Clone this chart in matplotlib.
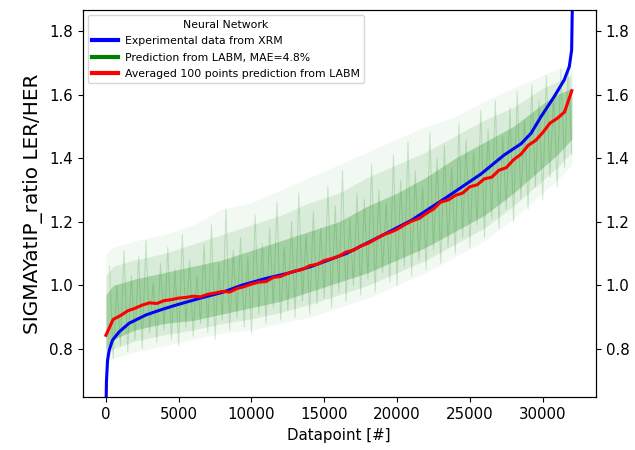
import numpy as np
import matplotlib
matplotlib.use("Agg")
from matplotlib import pyplot as plt

exp_x = [0, 40, 115, 230, 460, 915, 1600, 2750, 3900, 4810, 6500, 8000, 9300,
         11000, 12500, 14080, 16500, 18890, 21000, 23470, 25760, 27360, 28510,
         29200, 29880, 30800, 31480, 31830, 31990, 32060]
exp_y = [0.60, 0.70, 0.765, 0.797, 0.828, 0.854, 0.881, 0.907, 0.925, 0.938,
         0.960, 0.978, 1.0, 1.022, 1.038, 1.059, 1.10, 1.155, 1.205, 1.279,
         1.35, 1.41, 1.445, 1.478, 1.53, 1.594, 1.646, 1.688, 1.74, 1.95]

# red: averaged prediction, one value every 500 datapoints
avg_x = list(range(0, 32001, 500))
avg_y = [0.843, 0.893, 0.905, 0.920, 0.928, 0.938, 0.945, 0.943, 0.952, 0.955,
         0.960, 0.962, 0.966, 0.964, 0.972, 0.976, 0.981, 0.979, 0.990, 0.996,
         1.004, 1.010, 1.012, 1.025, 1.028, 1.038, 1.045, 1.050, 1.062, 1.066,
         1.078, 1.084, 1.092, 1.105, 1.110, 1.124, 1.132, 1.145, 1.158, 1.166,
         1.176, 1.190, 1.202, 1.210, 1.226, 1.240, 1.262, 1.268, 1.283, 1.290,
         1.310, 1.316, 1.335, 1.340, 1.362, 1.370, 1.395, 1.412, 1.440, 1.455,
         1.480, 1.510, 1.525, 1.545, 1.612]

# green: spread of the raw prediction (outer spikes, mid, dense part)
band_x = [0, 500, 2000, 4000, 6000, 8000, 10000, 12000, 14000, 16000, 18000,
          20000, 22000, 24000, 26000, 28000, 30000, 31000, 32000]
outer_hi = [1.10, 1.12, 1.14, 1.16, 1.19, 1.24, 1.26, 1.30, 1.34, 1.38, 1.42,
            1.46, 1.50, 1.53, 1.58, 1.62, 1.66, 1.68, 1.69]
mid_hi = [1.03, 1.06, 1.08, 1.10, 1.13, 1.16, 1.19, 1.22, 1.26, 1.29, 1.34,
          1.38, 1.42, 1.47, 1.52, 1.56, 1.62, 1.64, 1.66]
inner_hi = [0.97, 1.00, 1.02, 1.04, 1.06, 1.08, 1.11, 1.14, 1.17, 1.20, 1.25,
            1.29, 1.34, 1.40, 1.45, 1.50, 1.57, 1.60, 1.62]
inner_lo = [0.80, 0.83, 0.86, 0.88, 0.89, 0.91, 0.93, 0.95, 0.98, 1.01, 1.04,
            1.08, 1.12, 1.17, 1.22, 1.29, 1.37, 1.41, 1.46]
mid_lo = [0.78, 0.80, 0.825, 0.845, 0.86, 0.88, 0.895, 0.915, 0.94, 0.97, 1.00,
          1.04, 1.08, 1.13, 1.18, 1.25, 1.33, 1.37, 1.42]
outer_lo = [0.76, 0.77, 0.79, 0.81, 0.83, 0.85, 0.86, 0.88, 0.90, 0.93, 0.96,
            1.00, 1.04, 1.09, 1.14, 1.21, 1.29, 1.33, 1.38]

# single streaks of the raw prediction, every 500 datapoints
streak_x = list(range(250, 32000, 500))
streak_hi = [1.06, 1.00, 1.11, 1.03, 1.09, 1.14, 1.01, 1.07, 1.12, 1.05,
             1.16, 1.08, 1.03, 1.13, 1.19, 1.07, 1.24, 1.11, 1.15, 1.09,
             1.22, 1.13, 1.18, 1.26, 1.12, 1.20, 1.29, 1.16, 1.23, 1.18,
             1.31, 1.25, 1.36, 1.21, 1.29, 1.27, 1.38, 1.30, 1.26, 1.41,
             1.33, 1.45, 1.36, 1.31, 1.48, 1.40, 1.44, 1.37, 1.51, 1.46,
             1.42, 1.55, 1.49, 1.58, 1.47, 1.56, 1.61, 1.52, 1.63, 1.58,
             1.66, 1.60, 1.68, 1.69]
streak_lo = [0.77, 0.81, 0.79, 0.83, 0.80, 0.85, 0.82, 0.86, 0.83, 0.81,
             0.87, 0.84, 0.88, 0.85, 0.83, 0.89, 0.86, 0.90, 0.87, 0.85,
             0.91, 0.88, 0.93, 0.89, 0.92, 0.90, 0.95, 0.91, 0.94, 0.96,
             0.93, 0.98, 0.95, 1.00, 0.97, 1.02, 0.98, 1.04, 1.01, 1.00,
             1.06, 1.03, 1.08, 1.05, 1.11, 1.07, 1.12, 1.10, 1.15, 1.12,
             1.19, 1.15, 1.21, 1.18, 1.24, 1.20, 1.27, 1.24, 1.31, 1.27,
             1.34, 1.31, 1.37, 1.41]

# zig-zag through the streak values: high at each streak_x, low half a step later
zig_x = np.ravel(np.column_stack([streak_x, np.array(streak_x) + 250]))
zig_y = np.ravel(np.column_stack([streak_hi, streak_lo]))

fig, ax = plt.subplots(figsize=(6.35, 4.5), dpi=100)
fig.subplots_adjust(left=0.130, right=0.9386, bottom=0.1167, top=0.978)

ax.plot(exp_x, exp_y, color='blue', lw=2.2, label='Experimental data from XRM')
ax.fill_between(band_x, outer_lo, outer_hi, color='green', alpha=0.05, lw=0)
ax.fill_between(band_x, mid_lo, mid_hi, color='green', alpha=0.10, lw=0)
ax.fill_between(band_x, inner_lo, inner_hi, color='green', alpha=0.25, lw=0)
ax.plot(zig_x, zig_y, color='green', alpha=0.18, lw=0.7)
ax.plot([], [], color='green', lw=2.2, label='Prediction from LABM, MAE=4.8%')
ax.plot(avg_x, avg_y, color='red', lw=2.2,
        label='Averaged 100 points prediction from LABM')

ax.set_ylim(0.6475, 1.866)
ax.set_xticks([0, 5000, 10000, 15000, 20000, 25000, 30000])
ax.tick_params(labelsize=10.8)
ax.set_xlabel('Datapoint [#]', fontsize=10.8)
ax.set_ylabel('SIGMAYatIP_ratio LER/HER', fontsize=14.4)

ax2 = ax.twinx()
ax2.set_ylim(ax.get_ylim())
ax2.tick_params(labelsize=10.8)

leg = ax.legend(loc='upper left', title='Neural Network', fontsize=7.8,
                title_fontsize=7.8, handlelength=2.4, handletextpad=0.6,
                labelspacing=0.6)
for line in leg.get_lines():
    line.set_linewidth(3)

fig.savefig('out.png', dpi=100)
